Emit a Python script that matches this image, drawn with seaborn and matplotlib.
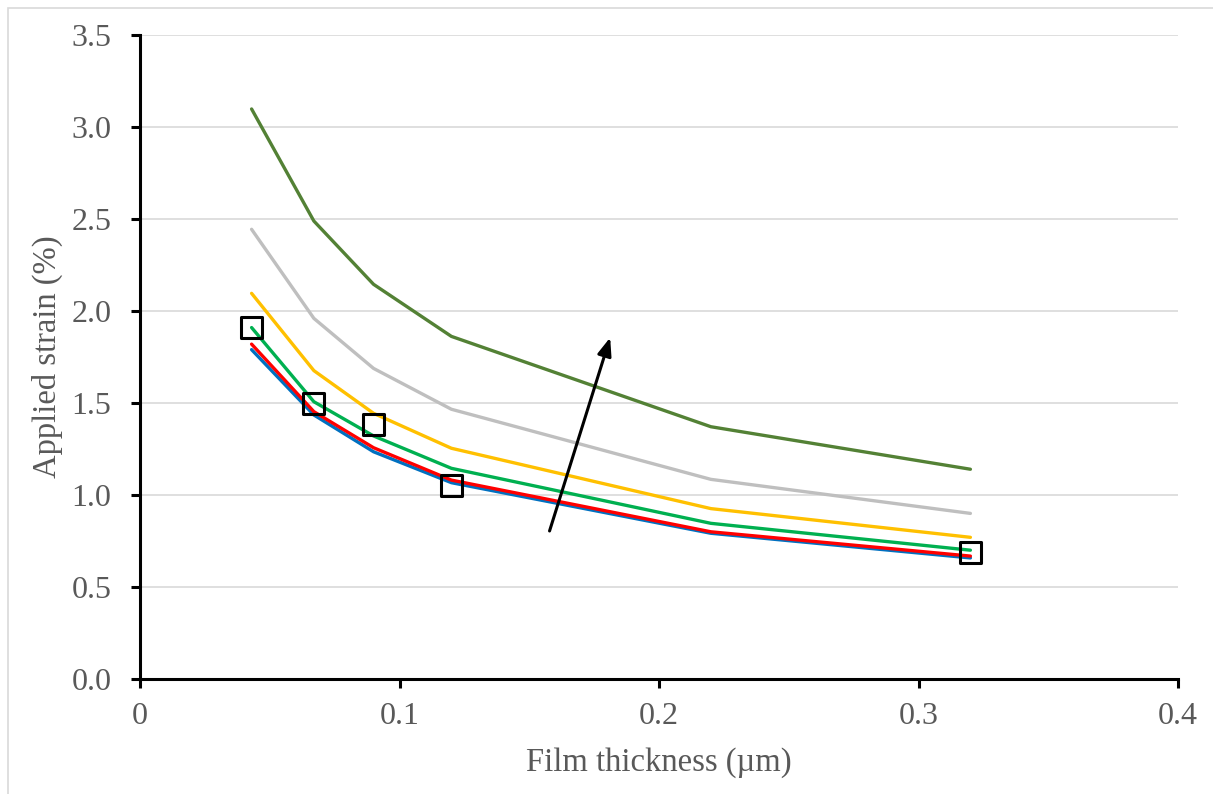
import matplotlib
matplotlib.use("Agg")
import matplotlib.pyplot as plt
from matplotlib.patches import Rectangle
import seaborn as sns
import pandas as pd

# Film thickness (µm) at which strain was evaluated
thickness = [0.043, 0.067, 0.09, 0.12, 0.22, 0.32]

# Applied strain (%) curves, bottom to top
strain_blue = [1.79, 1.435, 1.235, 1.067, 0.792, 0.658]
strain_red = [1.82, 1.453, 1.257, 1.081, 0.800, 0.668]
strain_green = [1.91, 1.507, 1.321, 1.145, 0.846, 0.700]
strain_yellow = [2.096, 1.676, 1.444, 1.254, 0.926, 0.770]
strain_gray = [2.444, 1.960, 1.688, 1.466, 1.085, 0.900]
strain_darkgreen = [3.098, 2.489, 2.145, 1.862, 1.371, 1.140]

# Measured points
meas_thickness = [0.043, 0.067, 0.09, 0.12, 0.32]
meas_strain = [1.91, 1.495, 1.384, 1.052, 0.685]

series = {
    "s1": (strain_blue, "#0070C0"),
    "s2": (strain_red, "#FF0000"),
    "s3": (strain_green, "#00B050"),
    "s4": (strain_yellow, "#FFC000"),
    "s5": (strain_gray, "#BFBFBF"),
    "s6": (strain_darkgreen, "#538135"),
}

sns.set_theme(style="white")
plt.rcParams["font.family"] = ["Liberation Serif", "DejaVu Serif"]

fig = plt.figure(figsize=(12.13, 7.94), dpi=100)
ax = fig.add_axes([140 / 1213, 1 - 679 / 794, (1178 - 140) / 1213, (679 - 35) / 794])

# Draw order: top curves first so the lower ones sit on top
draw_order = ["s6", "s5", "s4", "s3", "s1", "s2"]
for key in draw_order:
    vals, col = series[key]
    df = pd.DataFrame({"x": thickness, "y": vals})
    sns.lineplot(data=df, x="x", y="y", color=col, linewidth=2.4, ax=ax,
                 sort=False, zorder=3)

mdf = pd.DataFrame({"x": meas_thickness, "y": meas_strain})
sns.scatterplot(data=mdf, x="x", y="y", marker="s", s=230, facecolor="none",
                edgecolor="black", linewidth=2.2, ax=ax, zorder=5)

# Trend arrow
ax.annotate("", xy=(0.1815, 1.87), xytext=(0.1575, 0.79),
            arrowprops=dict(arrowstyle="-|>,head_length=0.9,head_width=0.35",
                            color="black", lw=2.2), zorder=6)

ax.set_xlim(0, 0.4)
ax.set_ylim(0, 3.5)
ax.set_xticks([0, 0.1, 0.2, 0.3, 0.4])
ax.set_xticklabels(["0", "0.1", "0.2", "0.3", "0.4"])
ax.set_yticks([0, 0.5, 1.0, 1.5, 2.0, 2.5, 3.0, 3.5])
ax.set_yticklabels([f"{v:.1f}" for v in [0, 0.5, 1.0, 1.5, 2.0, 2.5, 3.0, 3.5]])

ax.yaxis.grid(True, color="#D9D9D9", linewidth=1.2, zorder=0)
ax.xaxis.grid(False)
for side in ["top", "right"]:
    ax.spines[side].set_visible(False)
for side in ["left", "bottom"]:
    ax.spines[side].set_color("black")
    ax.spines[side].set_linewidth(2.2)

ax.tick_params(axis="both", which="major", direction="out", length=6.5, width=2.2,
               color="black", labelsize=23, labelcolor="#595959",
               left=True, bottom=True)
ax.tick_params(axis="x", pad=10)
ax.tick_params(axis="y", pad=14)

ax.set_xlabel("Film thickness (µm)", fontsize=23.5, color="#595959", labelpad=12)
ax.set_ylabel("Applied strain (%)", fontsize=23.5, color="#595959", labelpad=6)

# Thin chart-area frame
fig.patches.append(Rectangle((8 / 1213, -0.01), 1.02, 1 - 8 / 794 + 0.01,
                             transform=fig.transFigure, fill=False,
                             edgecolor="#D9D9D9", linewidth=1.2))

fig.savefig("out.png", dpi=100, facecolor="white")
